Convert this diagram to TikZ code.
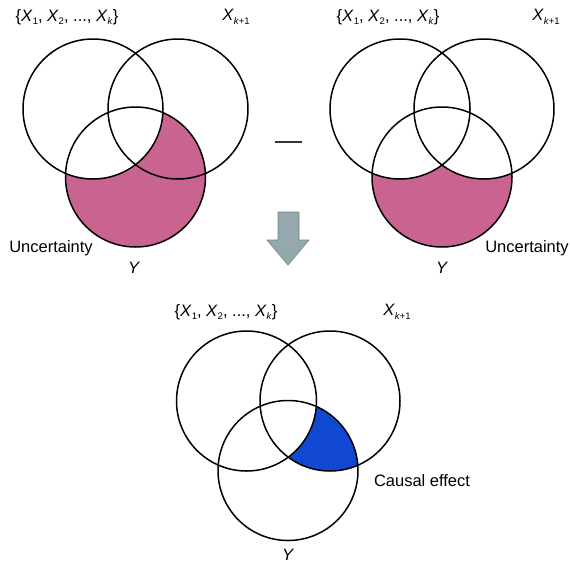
\documentclass[tikz,border=0pt]{standalone}
\usepackage{fontspec}
\setmainfont{Liberation Sans}
\definecolor{unc}{HTML}{C8648F}
\definecolor{caus}{HTML}{1048D2}
\definecolor{arrfill}{HTML}{94A8AD}
\definecolor{arrdraw}{HTML}{6F8488}
\newcommand{\mysub}[1]{\raisebox{-0.45ex}{\fontsize{9.5}{10}\selectfont #1}}
\newcommand{\setlab}{\{\textit{X}\mysub{1}, \textit{X}\mysub{2}, ..., \textit{X}\mysub{\textit{k}}\}}
\newcommand{\nextlab}{\textit{X}\mysub{\textit{k}+1}}
\begin{document}
\begin{tikzpicture}[x=1pt,y=-1pt,
  ring/.style={draw=black,line width=1.5pt},
  lab/.style={font=\fontsize{16.5}{19}\selectfont,inner sep=0pt}]
\useasboundingbox (0,0) rectangle (570,570);
\fill[white] (0,0) rectangle (570,570);
% centres
\coordinate (A1) at (93,109);   \coordinate (B1) at (178,109);  \coordinate (C1) at (135.5,177);
\coordinate (A2) at (400,109);  \coordinate (B2) at (484,109);  \coordinate (C2) at (442,177);
\coordinate (A3) at (246.5,401);\coordinate (B3) at (330,401);  \coordinate (C3) at (288,470.5);
\def\r{70}
% fills
\begin{scope}
  \clip (C1) circle (\r);
  \fill[unc,even odd rule] (C1) circle (\r) (A1) circle (\r);
\end{scope}
\begin{scope}
  \clip (C2) circle (\r);
  \fill[unc] (C2) circle (\r);
  \fill[white] (A2) circle (\r) (B2) circle (\r);
\end{scope}
\begin{scope}
  \clip (C3) circle (\r);
  \clip (B3) circle (\r);
  \fill[caus,even odd rule] (B3) circle (\r) (A3) circle (\r);
\end{scope}
% circles
\foreach \c in {A1,B1,C1,A2,B2,C2,A3,B3,C3} \draw[ring] (\c) circle (\r);
% labels
\node[lab] (s1) at (67,17) {\setlab};
\node[lab] (n1) at (236,17) {\nextlab};
\node[lab] (u1) at (51,248) {Uncertainty};
\node[lab] (y1) at (134,268) {\textit{Y}};
\node[lab] (s2) at (388,17) {\setlab};
\node[lab] (n2) at (546,17) {\nextlab};
\node[lab] (u2) at (527,248) {Uncertainty};
\node[lab] (y2) at (442,268) {\textit{Y}};
\node[lab] (s3) at (226,312) {\setlab};
\node[lab] (n3) at (397,312) {\nextlab};
\node[lab] (ce) at (422,481) {Causal effect};
\node[lab] (y3) at (288,555) {\textit{Y}};
% minus
\coordinate (m1) at (275,142); \coordinate (m2) at (302,142);
\draw[line width=1.5pt,black!80] (m1) -- (m2);
% arrow
\draw[fill=arrfill,draw=arrdraw,line width=0.6pt,line join=miter]
  (278,212) -- (299,212) -- (299,240) -- (309,240) -- (288,265) -- (267,240) -- (278,240) -- cycle;
\end{tikzpicture}
\end{document}
